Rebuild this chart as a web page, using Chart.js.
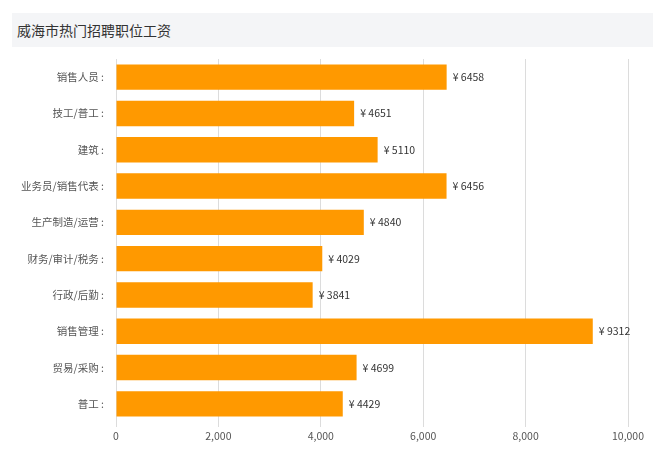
<!DOCTYPE html>
<html lang="zh">
<head>
  <meta charset="UTF-8">
  <title>威海市热门招聘职位工资</title>
  <script src="https://cdn.jsdelivr.net/npm/chart.js"></script>
  <style>
    body {
      margin: 0;
      background: #fff;
      font-family: 'Noto Sans CJK SC', sans-serif;
    }
    #wrap {
      position: relative;
      width: 656px;
      height: 456px;
    }
    #title {
      position: absolute;
      left: 12px;
      top: 13px;
      width: 636px;
      height: 34px;
      line-height: 34px;
      padding-left: 5px;
      background: #f4f5f7;
      color: #333;
      font-size: 14px;
    }
    canvas { position: absolute; left: 0; top: 0; }
  </style>
</head>
<body>
  <div id="wrap">
    <div id="title">威海市热门招聘职位工资</div>
    <canvas id="salaryChart" width="656" height="456"></canvas>
  </div>

  <script>
    const jobs = ['销售人员', '技工/普工', '建筑', '业务员/销售代表', '生产制造/运营',
                  '财务/审计/税务', '行政/后勤', '销售管理', '贸易/采购', '普工'];
    const salaries = [6458, 4651, 5110, 6456, 4840, 4029, 3841, 9312, 4699, 4429];
    const xTicks = [0, 2000, 4000, 6000, 8000, 10000];

    const cjk = "'Noto Sans CJK SC', sans-serif";

    // draw "¥ value" right of each bar
    const valueLabels = {
      id: 'valueLabels',
      afterDatasetsDraw(chart) {
        const c = chart.ctx;
        const meta = chart.getDatasetMeta(0);
        c.save();
        c.font = '10.5px ' + cjk;
        c.fillStyle = '#333';
        c.textBaseline = 'middle';
        meta.data.forEach((bar, i) => {
          c.fillText('¥ ' + salaries[i], bar.x + 6, bar.y);
        });
        c.restore();
      }
    };

    const ctx = document.getElementById('salaryChart').getContext('2d');
    new Chart(ctx, {
      type: 'bar',
      data: {
        labels: jobs,
        datasets: [{
          data: salaries,
          backgroundColor: '#ff9900',
          borderWidth: 0,
          categoryPercentage: 0.7,
          barPercentage: 1
        }]
      },
      options: {
        indexAxis: 'y',
        responsive: false,
        animation: false,
        layout: { padding: { top: 59, right: 28, left: 0, bottom: 0 } },
        scales: {
          x: {
            min: 0,
            max: 10000,
            afterBuildTicks: s => { s.ticks = xTicks.map(v => ({ value: v })); },
            afterFit: s => { s.height = 34; },
            grid: { color: '#dcdcdc', tickLength: 5, drawTicks: true },
            border: { display: false },
            ticks: {
              color: '#555',
              font: { size: 10.5, family: cjk },
              padding: 3,
              callback: v => v.toLocaleString('en-US')
            }
          },
          y: {
            afterFit: s => { s.width = 116; },
            grid: { display: false },
            border: { display: true, color: '#dcdcdc' },
            ticks: {
              color: '#555',
              font: { size: 10.5, family: cjk },
              padding: 4,
              callback: function (v) { return this.getLabelForValue(v) + ' :'; }
            }
          }
        },
        plugins: {
          legend: { display: false },
          tooltip: { enabled: false }
        }
      },
      plugins: [valueLabels]
    });
  </script>
</body>
</html>
